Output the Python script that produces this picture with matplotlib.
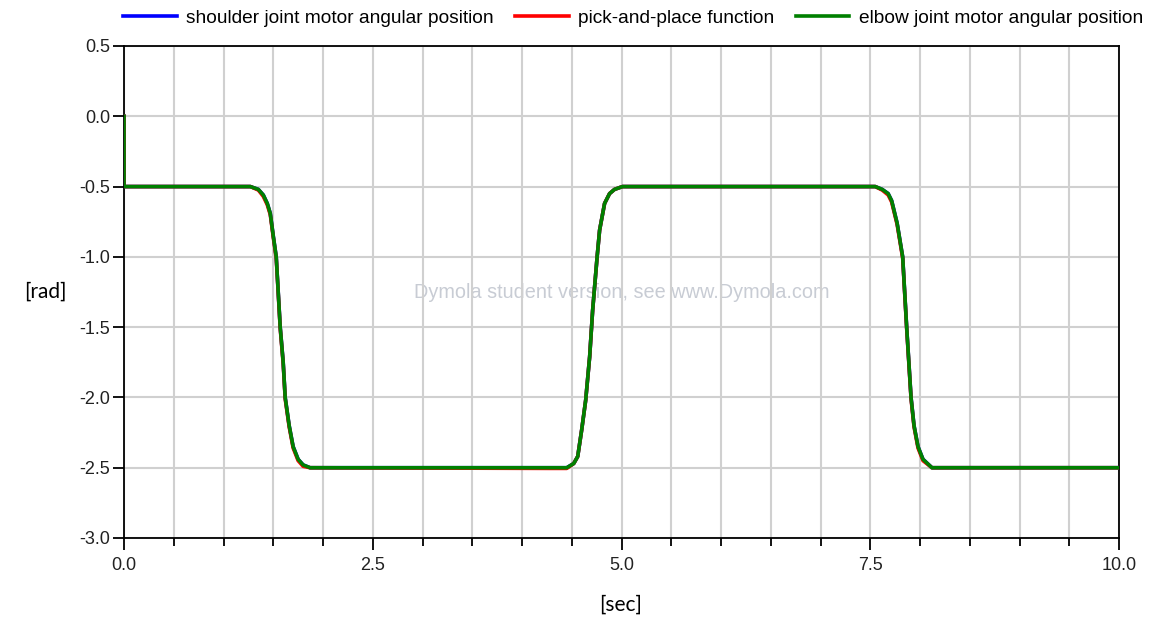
"""Dymola-style plot of joint motor angular positions."""

import matplotlib
import matplotlib.pyplot as plt
from matplotlib.ticker import MultipleLocator, FormatStrFormatter

matplotlib.use("Agg")

# time [sec] and angle [rad]
elbow_t = [0.0, 0.0, 1.27, 1.35, 1.40, 1.44, 1.47, 1.50, 1.53, 1.55, 1.57, 1.60,
           1.62, 1.66, 1.70, 1.75, 1.80, 1.87,
           4.45, 4.52, 4.56, 4.60, 4.64, 4.68, 4.71, 4.755, 4.78, 4.83, 4.88, 4.93, 5.01,
           7.55, 7.62, 7.68, 7.715, 7.77, 7.826, 7.866, 7.91, 7.94, 7.98, 8.03, 8.12, 10.0]
elbow_v = [0.0, -0.50, -0.50, -0.52, -0.56, -0.62, -0.69, -0.85, -1.00, -1.25, -1.50, -1.75,
           -2.00, -2.20, -2.35, -2.44, -2.48, -2.50,
           -2.50, -2.47, -2.42, -2.23, -2.02, -1.71, -1.38, -1.00, -0.81, -0.62, -0.55, -0.52, -0.50,
           -0.50, -0.52, -0.55, -0.60, -0.76, -1.00, -1.50, -2.00, -2.20, -2.35, -2.44, -2.50, -2.50]

shoulder_t = elbow_t
shoulder_v = elbow_v

place_t = [0.0, 0.0, 1.27, 1.35, 1.40, 1.44, 1.47, 1.50, 1.53, 1.55, 1.57, 1.60,
           1.62, 1.66, 1.70, 1.75, 1.80, 1.87,
           4.28, 4.45, 4.52, 4.56, 4.60, 4.64, 4.68, 4.71, 4.755, 4.78, 4.83, 4.88, 4.93, 5.01,
           7.55, 7.62, 7.68, 7.715, 7.77, 7.826, 7.866, 7.91, 7.94, 7.98, 8.03, 8.12, 10.0]
place_v = [0.0, -0.50, -0.50, -0.525, -0.57, -0.63, -0.70, -0.86, -1.01, -1.26, -1.51, -1.76,
           -2.01, -2.21, -2.36, -2.45, -2.49, -2.50,
           -2.505, -2.505, -2.47, -2.42, -2.23, -2.02, -1.71, -1.38, -1.00, -0.81, -0.62, -0.55, -0.52, -0.50,
           -0.50, -0.525, -0.56, -0.61, -0.77, -1.01, -1.51, -2.01, -2.21, -2.36, -2.45, -2.50, -2.50]

plt.rcParams["axes.unicode_minus"] = False
plt.rcParams["font.family"] = ["Liberation Sans", "DejaVu Sans"]

fig = plt.figure(figsize=(11.6, 6.19), dpi=100)
ax = fig.add_axes([124 / 1160, 81 / 619, 995 / 1160, 492 / 619])

ax.plot(shoulder_t, shoulder_v, color="#0000ff", lw=2.6, zorder=3,
        label="shoulder joint motor angular position")
ax.plot(place_t, place_v, color="#ff0000", lw=2.6, zorder=3,
        label="pick-and-place function")
ax.plot(elbow_t, elbow_v, color="#008000", lw=2.6, zorder=3,
        label="elbow joint motor angular position")

ax.set_xlim(0, 10)
ax.set_ylim(-3.0, 0.5)
ax.xaxis.set_major_locator(MultipleLocator(2.5))
ax.xaxis.set_minor_locator(MultipleLocator(0.5))
ax.yaxis.set_major_locator(MultipleLocator(0.5))
ax.xaxis.set_major_formatter(FormatStrFormatter("%.1f"))
ax.yaxis.set_major_formatter(FormatStrFormatter("%.1f"))

ax.set_axisbelow(True)
ax.grid(True, which="both", axis="x", color="#d0d0d0", lw=1.5)
ax.grid(True, which="major", axis="y", color="#d0d0d0", lw=1.5)

for sp in ax.spines.values():
    sp.set_linewidth(1.3)
    sp.set_color("black")

ax.tick_params(axis="both", which="major", direction="out", length=8, width=1.3,
               labelsize=13, colors="black", labelcolor="#222222", pad=2)
ax.tick_params(axis="x", which="major", length=8.5, pad=5)
ax.tick_params(axis="x", which="minor", direction="out", length=5.5, width=1.3)

ax.text(0.5, 0.498, "Dymola student version, see www.Dymola.com", transform=ax.transAxes,
        ha="center", va="center", fontsize=14.3, color="#c8ccd4", zorder=0.3)

fig.text(45 / 1160, 1 - 292 / 619, "[rad]", ha="center", va="center",
         fontsize=15, family=["Lato", "DejaVu Sans"])
fig.text(621 / 1160, 1 - 605 / 619, "[sec]", ha="center", va="center",
         fontsize=15, family=["Lato", "DejaVu Sans"])

fig.legend(loc="center left", bbox_to_anchor=(123 / 1160, 1 - 18 / 619), ncol=3,
           frameon=False, fontsize=13.8, handlelength=2.8, handletextpad=0.5,
           columnspacing=1.1, borderpad=0, borderaxespad=0)

fig.savefig("out.png", dpi=100)
plt.close(fig)
